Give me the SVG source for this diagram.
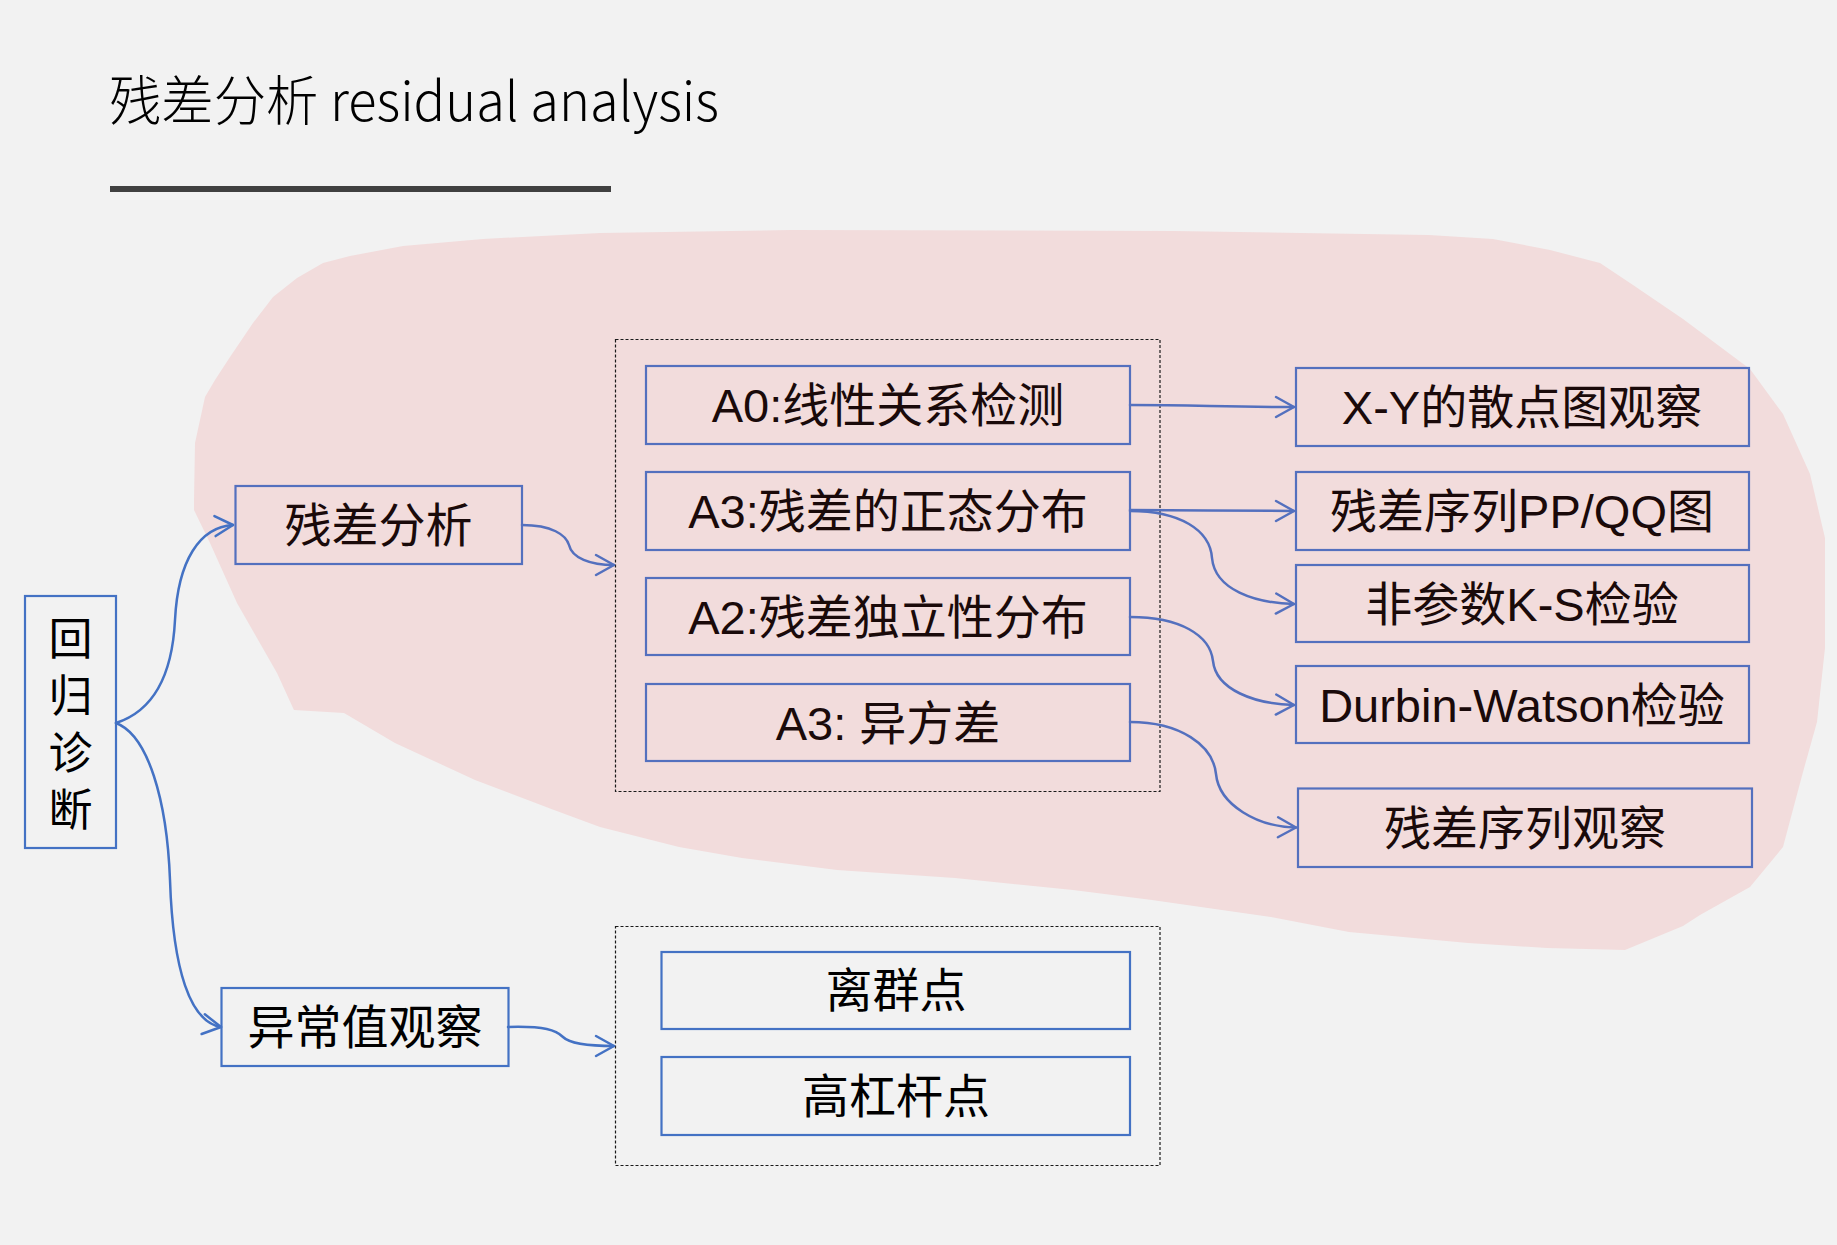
<svg xmlns="http://www.w3.org/2000/svg" width="1837" height="1245" viewBox="0 0 1837 1245">
  <defs>
    <style>
      .bg { fill: #F2F2F2; }
      .blob { fill: #F2DCDC; stroke: none; }
      .box { fill: none; stroke: #4472C4; stroke-width: 2.2; }
      .box.in { stroke: #5470BE; }
      .dash { fill: none; stroke: #1A1A1A; stroke-width: 1.2; stroke-dasharray: 3 2; }
      .lbl { font-family: "Liberation Sans", "Noto Sans CJK SC", sans-serif; font-size: 47px; fill: #000; text-anchor: middle; }
      .lbl.in { fill: #1A0A0A; }
      .title { font-family: "Noto Sans CJK SC", "Noto Sans", sans-serif; font-weight: 300; font-size: 54px; fill: #000; }
      .con { fill: none; stroke: #4472C4; stroke-width: 2.5; stroke-linecap: round; }
      .con.in { stroke: #5470BE; }
    </style>
    <marker id="arr" markerUnits="userSpaceOnUse" markerWidth="24" markerHeight="24" viewBox="-20 -12 22 24" refX="0" refY="0" orient="auto">
      <path d="M-18,-10 L0,0 L-18,10" fill="none" stroke="#4472C4" stroke-width="2.5" stroke-linecap="round" stroke-linejoin="round"/>
    </marker>
    <marker id="arrIn" markerUnits="userSpaceOnUse" markerWidth="24" markerHeight="24" viewBox="-20 -12 22 24" refX="0" refY="0" orient="auto">
      <path d="M-18,-10 L0,0 L-18,10" fill="none" stroke="#5470BE" stroke-width="2.5" stroke-linecap="round" stroke-linejoin="round"/>
    </marker>
  </defs>

  <rect class="bg" x="0" y="0" width="1837" height="1245"/>

  <g id="title">
    <text class="title" x="109" y="121" textLength="610" lengthAdjust="spacingAndGlyphs">残差分析 residual analysis</text>
    <rect x="110" y="186" width="501" height="6" fill="#404040"/>
  </g>

  <path id="highlight" class="blob" d="M194,500 L195,443 L200,420 L205,397 L215,380 L230,357 L253,323 L273,297 L297,278 L323,263 L350,256 L403,246 L483,239 L600,233 L791,230 L1174,231 L1301,233 L1429,235 L1493,239 L1550,250 L1600,263 L1633,285 L1683,319 L1750,369 L1783,414 L1810,474 L1825,538 L1825,648 L1817,722 L1803,772 L1783,847 L1750,887 L1700,915 L1683,926 L1625,950 L1547,948 L1468,943 L1349,932 L1271,917 L1152,900 L1073,890 L955,878 L837,870 L742,858 L679,847 L600,827 L554,810 L475,780 L395,743 L344,713 L294,710 L293,708 L277,673 L237,603 L210,543 L194,510 Z"/>

  <g id="group-residual">
    <rect class="dash" x="615.5" y="339.5" width="544.5" height="452"/>
  </g>
  <g id="group-outlier">
    <rect class="dash" x="615.5" y="926.5" width="544.5" height="239"/>
  </g>

  <g id="connectors">
    <path class="con" d="M116,723 C150,712 172,680 175,620 C178,560 200,527 233,525" marker-end="url(#arr)"/>
    <path class="con" d="M116,723 C148,735 167,800 170,880 C173,970 190,1022 221,1027" marker-end="url(#arr)"/>
    <path class="con in" d="M522,525 C552,525 566,535 569,545 C572,558 590,565 614,565" marker-end="url(#arrIn)"/>
    <path class="con" d="M508,1027 C545,1026 556,1030 563,1037 C570,1044 590,1046 614,1046" marker-end="url(#arr)"/>
    <path class="con in" d="M1130,405 C1200,405 1220,407 1294,407" marker-end="url(#arrIn)"/>
    <path class="con in" d="M1130,510 C1200,510 1220,511 1294,511" marker-end="url(#arrIn)"/>
    <path class="con in" d="M1130,511 C1180,511 1210,530 1212,558 C1215,590 1255,603 1294,604" marker-end="url(#arrIn)"/>
    <path class="con in" d="M1130,617 C1180,617 1210,635 1213,661 C1216,690 1255,704 1294,705" marker-end="url(#arrIn)"/>
    <path class="con in" d="M1130,722 C1180,722 1213,745 1216,774 C1219,805 1258,827 1296,827.5" marker-end="url(#arrIn)"/>
  </g>

  <g id="n-root">
    <rect class="box" x="25" y="596" width="91" height="252"/>
    <text class="lbl" style="font-size:44px" x="70.5" y="655">回</text>
    <text class="lbl" style="font-size:44px" x="70.5" y="712">归</text>
    <text class="lbl" style="font-size:44px" x="70.5" y="769">诊</text>
    <text class="lbl" style="font-size:44px" x="70.5" y="826">断</text>
  </g>
  <g id="n-residual">
    <rect class="box in" x="235.5" y="486" width="286.5" height="78"/>
    <text class="lbl in" x="378.5" y="542">残差分析</text>
  </g>
  <g id="n-outlier">
    <rect class="box" x="221.5" y="988" width="287" height="78"/>
    <text class="lbl" x="365" y="1044">异常值观察</text>
  </g>
  <g id="n-a0">
    <rect class="box in" x="646" y="366" width="484" height="78"/>
    <text class="lbl in" x="888" y="422">A0:线性关系检测</text>
  </g>
  <g id="n-a3n">
    <rect class="box in" x="646" y="472" width="484" height="78"/>
    <text class="lbl in" x="888" y="528">A3:残差的正态分布</text>
  </g>
  <g id="n-a2">
    <rect class="box in" x="646" y="578" width="484" height="77"/>
    <text class="lbl in" x="888" y="633.5">A2:残差独立性分布</text>
  </g>
  <g id="n-a3h">
    <rect class="box in" x="646" y="684" width="484" height="77"/>
    <text class="lbl in" x="888" y="739.5">A3: 异方差</text>
  </g>
  <g id="n-xy">
    <rect class="box in" x="1296" y="368" width="453" height="78"/>
    <text class="lbl in" x="1522" y="424">X-Y的散点图观察</text>
  </g>
  <g id="n-ppqq">
    <rect class="box in" x="1296" y="472" width="453" height="78"/>
    <text class="lbl in" x="1522" y="528">残差序列PP/QQ图</text>
  </g>
  <g id="n-ks">
    <rect class="box in" x="1296" y="565" width="453" height="77"/>
    <text class="lbl in" x="1522" y="620.5">非参数K-S检验</text>
  </g>
  <g id="n-dw">
    <rect class="box in" x="1296" y="666" width="453" height="77"/>
    <text class="lbl in" x="1522" y="721.5">Durbin-Watson检验</text>
  </g>
  <g id="n-seq">
    <rect class="box in" x="1298" y="788.5" width="454" height="78.5"/>
    <text class="lbl in" x="1525" y="844.5">残差序列观察</text>
  </g>
  <g id="n-outpt">
    <rect class="box" x="661.5" y="952" width="468.5" height="77"/>
    <text class="lbl" x="896" y="1007">离群点</text>
  </g>
  <g id="n-lev">
    <rect class="box" x="661.5" y="1057" width="468.5" height="78"/>
    <text class="lbl" x="896" y="1113">高杠杆点</text>
  </g>
</svg>
